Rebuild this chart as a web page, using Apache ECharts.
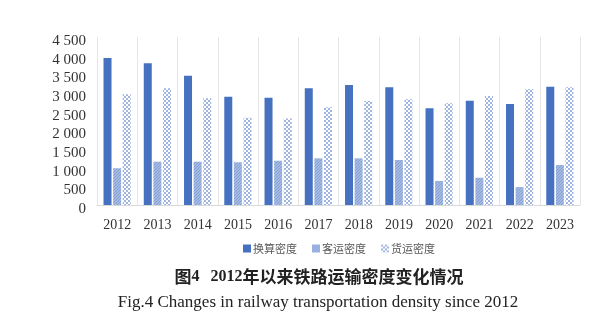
<!DOCTYPE html>
<html><head><meta charset="utf-8">
<script src="https://cdn.jsdelivr.net/npm/echarts@6/dist/echarts.min.js"></script>
<style>html,body{margin:0;padding:0;background:#fff}#c{width:607px;height:322px}</style>
</head><body><div id="c"></div>
<script>
const years = ['2012','2013','2014','2015','2016','2017','2018','2019','2020','2021','2022','2023'];
const convDensity = [3940,3800,3465,2900,2875,3125,3215,3155,2590,2795,2705,3170];
const passDensity = [985,1160,1160,1145,1185,1250,1250,1205,645,730,480,1070];
const freightDensity = [2965,3125,2860,2340,2320,2615,2785,2830,2725,2920,3105,3155];
const seriesNames = ['换算密度','客运密度','货运密度'];

function pattern(w, h, draw){
  const c = document.createElement('canvas'); c.width=w; c.height=h;
  const g = c.getContext('2d'); draw(g); return {image:c, repeat:'repeat'};
}
const passPat = pattern(3,3,g=>{g.fillStyle='#a5bae2';g.fillRect(0,0,3,3);g.fillStyle='#849fd4';g.fillRect(0,0,1,1);g.fillRect(2,1,1,1);g.fillRect(1,2,1,1);});
const frPat = pattern(4,4,g=>{g.fillStyle='#ffffff';g.fillRect(0,0,4,4);g.fillStyle='#9fb5e2';g.fillRect(0,0,2,2);g.fillRect(2,2,2,2);});

const chart = echarts.init(document.getElementById('c'));
const fmt = v => { const s=String(v); return s.length>3 ? s.slice(0,-3)+' '+s.slice(-3) : s; };
chart.setOption({
  animation:false,
  grid:{left:97,right:27,top:37,bottom:117},
  legend:{data:seriesNames,left:238,top:238,itemWidth:8,itemHeight:8,itemGap:15,icon:'rect',
    textStyle:{fontFamily:'Noto Sans CJK SC',fontSize:11,color:'#595959',padding:[0,0,0,-3]}},
  xAxis:{type:'category',data:years,
    axisLine:{lineStyle:{color:'#d9d9d9'}},axisTick:{show:false},
    splitLine:{show:true,interval:0,lineStyle:{color:'#e6e6e6'}},
    axisLabel:{fontFamily:'Liberation Serif',fontSize:14,color:'#333',margin:13}},
  yAxis:{type:'value',min:0,max:4500,interval:500,
    axisLine:{show:false},axisTick:{show:false},splitLine:{show:false},
    axisLabel:{fontFamily:'Liberation Serif',fontSize:15,color:'#333',margin:11,verticalAlign:'top',lineHeight:8,formatter:v=>fmt(v)}},
  series:[
    {name:seriesNames[0],type:'bar',data:convDensity,barWidth:8,barGap:'20%',itemStyle:{color:'#4670c0'}},
    {name:seriesNames[1],type:'bar',data:passDensity,barWidth:8,itemStyle:{color:passPat}},
    {name:seriesNames[2],type:'bar',data:freightDensity,barWidth:8,itemStyle:{color:frPat}}
  ],
  graphic:[
    {type:'text',x:319,y:277,style:{text:'{a|图}{b|4\u2002\u20092012}{a|年以来铁路运输密度变化情况}',align:'center',verticalAlign:'middle',
      rich:{a:{fontFamily:'Noto Sans CJK SC',fontWeight:'bold',fontSize:17,fill:'#222'},b:{fontFamily:'Liberation Serif',fontWeight:'bold',fontSize:16,fill:'#222'}}}},
    {type:'text',x:318,y:303,style:{text:'Fig.4 Changes in railway transportation density since 2012',align:'center',verticalAlign:'middle',fontFamily:'Liberation Serif',fontSize:17,fill:'#222'}}
  ]
});
</script></body></html>
